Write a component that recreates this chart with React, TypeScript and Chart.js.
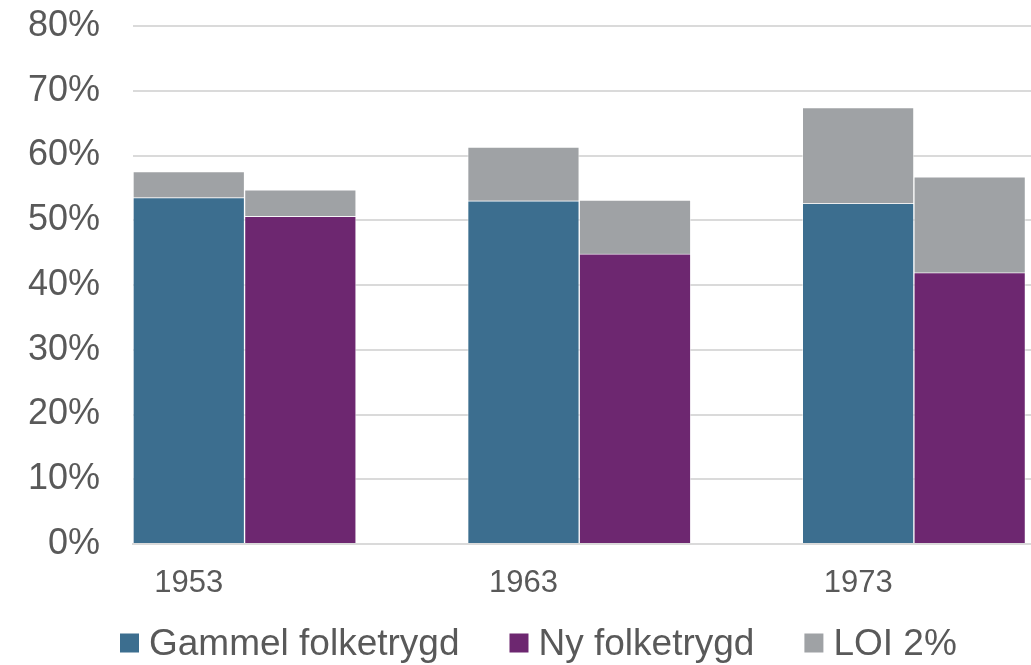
import React, { useEffect, useRef } from "react";
import { Chart, registerables } from "chart.js";

Chart.register(...registerables);

const CATEGORIES = ["1953", "1963", "1973"];
const GAMMEL = [53.5, 53.0, 52.6];
const NY = [50.6, 44.8, 41.9];
const LOI_GAMMEL = [4.0, 8.3, 14.8];
const LOI_NY = [4.1, 8.3, 14.8];
const EMPTY_SLOT = [0, 0, 0];
const Y_TICKS = [0, 10, 20, 30, 40, 50, 60, 70, 80];
const LEGEND_LABELS = ["Gammel folketrygd", "Ny folketrygd", "LOI 2%"];

const BLUE = "#3c6e8f";
const PURPLE = "#6d2770";
const GRAY = "#9fa2a5";
const TEXT = "#595959";
const GRID = "#dadada";
const FONT = "'Liberation Sans', Arial, sans-serif";

const legendPlugin = {
  id: "customLegend",
  afterDraw(chart: any) {
    const ctx = chart.ctx;
    const colors = [BLUE, PURPLE, GRAY];
    ctx.save();
    ctx.font = `37px ${FONT}`;
    ctx.textBaseline = "middle";
    ctx.textAlign = "left";
    let x = 120;
    const yc = 645;
    const box = 19;
    LEGEND_LABELS.forEach((label, i) => {
      ctx.fillStyle = colors[i];
      ctx.fillRect(x, yc - box / 2 - 2, box, box);
      ctx.fillStyle = TEXT;
      const tx = x + box + 10;
      ctx.fillText(label, tx, yc);
      x = tx + ctx.measureText(label).width + 50;
    });
    ctx.restore();
  },
};

export default function App() {
  const ref = useRef<HTMLCanvasElement | null>(null);
  useEffect(() => {
    if (!ref.current) return;
    const barCommon = {
      borderWidth: 1,
      borderColor: "rgba(255,255,255,0.45)",
      categoryPercentage: 1,
      barPercentage: 1,
    };
    const chart = new Chart(ref.current, {
      type: "bar",
      data: {
        labels: CATEGORIES,
        datasets: [
          { label: LEGEND_LABELS[0], data: GAMMEL, backgroundColor: BLUE, stack: "g", ...barCommon },
          { label: LEGEND_LABELS[2], data: LOI_GAMMEL, backgroundColor: GRAY, stack: "g", ...barCommon },
          { label: LEGEND_LABELS[1], data: NY, backgroundColor: PURPLE, stack: "n", ...barCommon },
          { label: LEGEND_LABELS[2], data: LOI_NY, backgroundColor: GRAY, stack: "n", ...barCommon },
          { label: "", data: EMPTY_SLOT, backgroundColor: "rgba(0,0,0,0)", stack: "e", categoryPercentage: 1, barPercentage: 1, borderWidth: 0 },
        ],
      },
      options: {
        responsive: false,
        animation: false,
        layout: { padding: { top: 26, bottom: 61, left: 0, right: 0 } },
        plugins: {
          legend: { display: false },
          tooltip: { enabled: false },
        },
        scales: {
          x: {
            stacked: true,
            grid: { display: false, drawTicks: false },
            border: { display: true, color: GRID, width: 2 },
            ticks: {
              color: TEXT,
              font: { family: FONT, size: 31 },
              padding: 21,
              labelOffset: -111.5,
              maxRotation: 0,
            },
            afterFit: (axis: any) => {
              axis.height = 60;
            },
          },
          y: {
            stacked: true,
            min: 0,
            max: 80,
            afterBuildTicks: (axis: any) => {
              axis.ticks = Y_TICKS.map((v) => ({ value: v }));
            },
            grid: { color: GRID, lineWidth: 2, drawTicks: true, tickLength: 33, tickColor: "rgba(0,0,0,0)" },
            border: { display: false },
            ticks: {
              color: TEXT,
              font: { family: FONT, size: 36 },
              padding: 0,
              callback: (v: any) => `${v}%`,
            },
            afterFit: (axis: any) => {
              axis.width = 133;
            },
          },
        },
      },
      plugins: [legendPlugin],
    });
    return () => chart.destroy();
  }, []);
  return (
    <div style={{ position: "absolute", left: 0, top: 0, width: 1031, height: 665, overflow: "hidden", background: "#fff" }}>
      <canvas ref={ref} width={1137} height={665} style={{ display: "block" }} />
    </div>
  );
}
